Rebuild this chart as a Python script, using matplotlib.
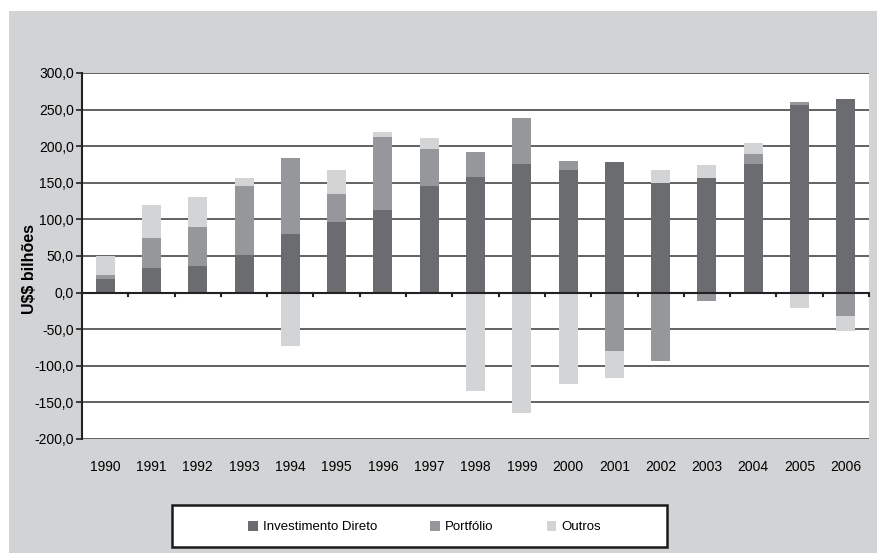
import matplotlib.pyplot as plt
import numpy as np
from matplotlib.patches import Rectangle, Patch

plt.rcParams['font.family'] = ['Liberation Sans', 'DejaVu Sans']

anos = ['1990', '1991', '1992', '1993', '1994', '1995', '1996', '1997', '1998',
        '1999', '2000', '2001', '2002', '2003', '2004', '2005', '2006']
investimento_direto = [18, 34, 37, 52, 80, 96, 113, 146, 158, 176, 168, 179, 150, 157, 176, 256, 264]
portfolio = [6, 41, 52, 93, 104, 39, 99, 50, 34, 63, 12, -80, -94, -12, 14, 4, -32]
outros = [26, 45, 41, 11, -73, 33, 8, 15, -134, -164, -125, -36, 18, 18, 15, -21, -21]

series = [('Investimento Direto', investimento_direto, '#6b6c70'),
          ('Portfólio', portfolio, '#96979b'),
          ('Outros', outros, '#d3d4d6')]

fundo = '#d2d3d5'
fig = plt.figure(figsize=(8.78, 5.53), dpi=100)
fig.patch.set_facecolor('white')
# gray panel behind everything
fig.patches.append(Rectangle((9 / 878, 0), 1, 1 - 11 / 553, transform=fig.transFigure,
                             facecolor=fundo, edgecolor='none', zorder=-10))

ax = fig.add_axes([82 / 878, 1 - 439 / 553, (869 - 82) / 878, (439 - 73) / 553])
ax.set_facecolor('white')

x = np.arange(len(anos))
pos_base = np.zeros(len(anos))
neg_base = np.zeros(len(anos))
for nome, vals, cor in series:
    v = np.array(vals, dtype=float)
    base = np.where(v >= 0, pos_base, neg_base)
    ax.bar(x, v, width=0.41, bottom=base, color=cor, zorder=3, label=nome)
    pos_base += np.where(v >= 0, v, 0)
    neg_base += np.where(v < 0, v, 0)

ax.set_xlim(-0.5, len(anos) - 0.5)
ax.set_ylim(-200, 300)
yt = np.arange(-200, 301, 50)
ax.set_yticks(yt)
ax.set_yticklabels([f'{t:.1f}'.replace('.', ',') for t in yt], fontsize=10)
for t in yt:
    if t != 0:
        ax.axhline(t, color='#555555', lw=1.3, zorder=2)

for s in ['top', 'right', 'bottom']:
    ax.spines[s].set_visible(False)
ax.spines['left'].set_linewidth(1.5)
ax.spines['left'].set_color('#222222')
ax.tick_params(axis='y', length=4, width=1.2, pad=2, color='#222222')

# zero line with category separator ticks
ax.axhline(0, color='#222222', lw=1.5, zorder=4)
ax.set_xticks([])
for b in np.arange(0.5, len(anos), 1.0):
    ax.plot([b, b], [0, -4], color='#222222', lw=1.5, zorder=4, clip_on=False)
for xi, a in zip(x, anos):
    ax.text(xi, -229, a, ha='center', va='top', fontsize=10)

ax.set_ylabel('U\\$\\$ bilhões', fontsize=11.5, fontweight='bold')
ax.yaxis.set_label_coords(-0.057, 0.465)

# legend box
fig.patches.append(Rectangle((172 / 878, 1 - 547 / 553), 495 / 878, 42 / 553,
                             transform=fig.transFigure, facecolor='white',
                             edgecolor='#1a1a1a', lw=1.8, zorder=5))
handles = [Patch(facecolor=c, edgecolor='none', label=n) for n, _, c in series]
leg = fig.legend(handles=handles, loc='center left', bbox_to_anchor=(236 / 878, 1 - 527 / 553),
                 ncol=3, frameon=False, fontsize=9.5, handlelength=0.75, handleheight=0.85,
                 handletextpad=0.4, columnspacing=4.0)
leg.set_zorder(6)

fig.savefig('out.png', dpi=100, facecolor=fig.get_facecolor())
